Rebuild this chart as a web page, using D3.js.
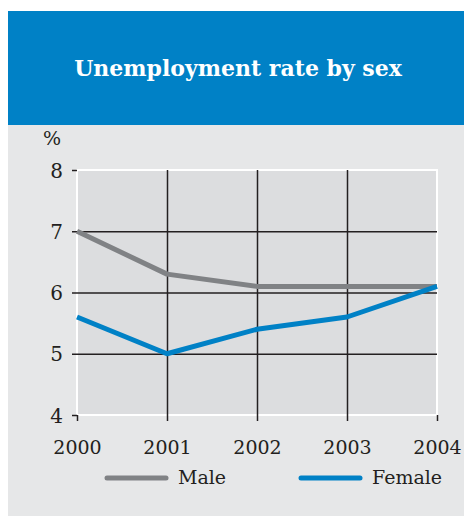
<!DOCTYPE html>
<html>
<head>
<meta charset="utf-8">
<script src="https://cdn.jsdelivr.net/npm/d3@7"></script>
<style>
  body { margin: 0; background: #fff; }
  svg { display: block; }
  text { font-family: "DejaVu Serif", "Liberation Serif", Georgia, serif; fill: #231f20; }
</style>
</head>
<body>
<svg id="chart" width="464" height="516"></svg>
<script>
const years = [2000, 2001, 2002, 2003, 2004];
const male = [7.0, 6.3, 6.1, 6.1, 6.1];
const female = [5.6, 5.0, 5.4, 5.6, 6.1];
const yTicks = [4, 5, 6, 7, 8];
const seriesNames = ['Male', 'Female'];
const seriesColors = ['#808285', '#0081c6'];

const svg = d3.select('#chart');
const width = +svg.attr('width');
const height = +svg.attr('height');

// panel + header
svg.append('rect')
  .attr('x', 8).attr('y', 11)
  .attr('width', width - 8).attr('height', height - 11)
  .attr('fill', '#e6e7e8');
svg.append('rect')
  .attr('x', 8).attr('y', 11)
  .attr('width', width - 8).attr('height', 114)
  .attr('fill', '#0081c6');
svg.append('text')
  .attr('x', 238).attr('y', 76)
  .attr('text-anchor', 'middle')
  .attr('font-size', 22)
  .attr('font-weight', 'bold')
  .style('fill', '#fff')
  .text('Unemployment rate by sex');

const margin = { top: 170, left: 77, right: 27, bottom: 101 };
const innerWidth = width - margin.left - margin.right;
const innerHeight = height - margin.top - margin.bottom;

const xScale = d3.scaleLinear()
  .domain(d3.extent(years))
  .range([0, innerWidth]);
const yScale = d3.scaleLinear()
  .domain([4, 8])
  .range([innerHeight, 0]);

// plot background, kept outside the axis group
svg.append('rect')
  .attr('x', margin.left).attr('y', margin.top)
  .attr('width', innerWidth).attr('height', innerHeight)
  .attr('fill', '#dcdddf')
  .attr('stroke', '#fff')
  .attr('stroke-width', 2);

const g = svg.append('g')
  .attr('transform', `translate(${margin.left}, ${margin.top})`);

// y axis: gridlines at inner ticks, short ticks at ends
const yAxis = d3.axisLeft(yScale)
  .tickValues(yTicks)
  .tickFormat(d3.format('d'))
  .tickSize(0)
  .tickPadding(14);
const yAxisG = g.append('g').call(yAxis)
  .attr('font-size', null)
  .attr('font-family', null);
yAxisG.select('.domain').remove();
yAxisG.selectAll('text')
  .attr('font-size', 20)
  .attr('dy', 7);
yAxisG.selectAll('.tick').append('line')
  .attr('x1', -5)
  .attr('x2', d => (d === 4 || d === 8) ? 0 : innerWidth)
  .attr('stroke', '#231f20')
  .attr('stroke-width', 1.5);

// x axis
const xAxis = d3.axisBottom(xScale)
  .tickValues(years)
  .tickFormat(d3.format('d'))
  .tickSize(0)
  .tickPadding(26);
const xAxisG = g.append('g')
  .attr('transform', `translate(0, ${innerHeight})`)
  .call(xAxis)
  .attr('font-size', null)
  .attr('font-family', null);
xAxisG.select('.domain').remove();
xAxisG.selectAll('text')
  .attr('font-size', 19)
  .attr('dy', 13);
xAxisG.selectAll('.tick').append('line')
  .attr('y1', 6)
  .attr('y2', (d, i) => (i === 0 || i === years.length - 1) ? 0 : -innerHeight)
  .attr('stroke', '#231f20')
  .attr('stroke-width', 1.5);

svg.append('text')
  .attr('x', margin.left - 34).attr('y', margin.top - 25)
  .attr('font-size', 19)
  .text('%');

// lines
const line = d3.line()
  .x((d, i) => xScale(years[i]))
  .y(d => yScale(d));

g.selectAll('.series').data([male, female])
  .enter().append('path')
    .attr('class', 'series')
    .attr('d', d => line(d))
    .attr('fill', 'none')
    .attr('stroke', (d, i) => seriesColors[i])
    .attr('stroke-width', 5)
    .attr('stroke-linejoin', 'round');

// legend
const legendX = [107, 301];
const legend = svg.selectAll('.legend').data(seriesNames)
  .enter().append('g')
    .attr('class', 'legend')
    .attr('transform', (d, i) => `translate(${legendX[i]}, 478)`);
legend.append('line')
  .attr('x1', 0).attr('x2', 59)
  .attr('stroke', (d, i) => seriesColors[i])
  .attr('stroke-width', 5)
  .attr('stroke-linecap', 'round');
legend.append('text')
  .attr('x', 71).attr('y', 6)
  .attr('font-size', 19)
  .text(d => d);
</script>
</body>
</html>
